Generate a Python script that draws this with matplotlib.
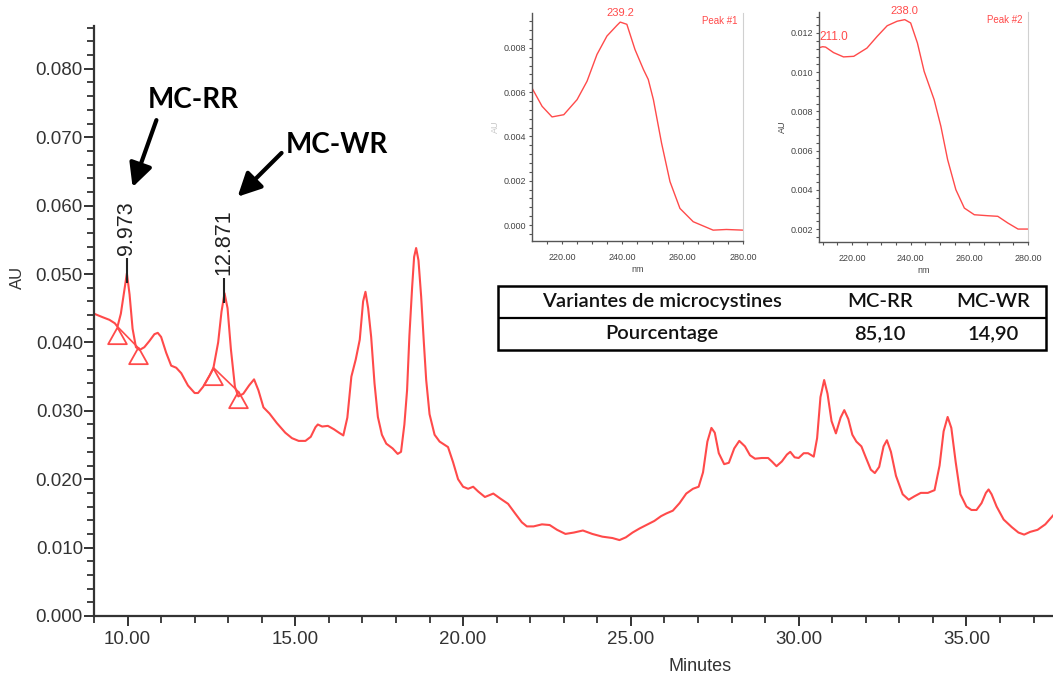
import numpy as np
import matplotlib
matplotlib.use("Agg")
import matplotlib.pyplot as plt
from matplotlib.ticker import MultipleLocator, FormatStrFormatter
from matplotlib.patches import Rectangle

plt.rcParams['font.family'] = ['Liberation Sans', 'DejaVu Sans']

# chromatogram (minutes, AU)
t = [9.00, 9.25, 9.46, 9.62, 9.70, 9.80, 9.90, 9.98, 10.06, 10.15, 10.25, 10.36,
     10.50, 10.65, 10.80, 10.90, 11.00, 11.15, 11.30, 11.45, 11.60, 11.80, 12.00,
     12.10, 12.25, 12.45, 12.56, 12.70, 12.80, 12.89, 12.98, 13.08, 13.20, 13.30,
     13.45, 13.62, 13.77, 13.90, 14.05, 14.23, 14.45, 14.70, 14.90, 15.10, 15.30,
     15.46, 15.60, 15.67, 15.80, 15.97, 16.15, 16.30, 16.43, 16.55, 16.67, 16.80,
     16.92, 17.02, 17.09, 17.17, 17.26, 17.36, 17.46, 17.58, 17.71, 17.90, 18.05,
     18.15, 18.25, 18.33, 18.40, 18.48, 18.54, 18.60, 18.67, 18.75, 18.83, 18.90,
     19.00, 19.15, 19.30, 19.55, 19.70, 19.85, 20.00, 20.15, 20.30, 20.45, 20.65,
     20.90, 21.10, 21.34, 21.55, 21.75, 21.90, 22.10, 22.35, 22.58, 22.80, 23.05,
     23.30, 23.57, 23.85, 24.15, 24.45, 24.66, 24.85, 25.05, 25.26, 25.50, 25.70,
     25.90, 26.06, 26.25, 26.45, 26.65, 26.85, 27.02, 27.15, 27.28, 27.40, 27.50,
     27.62, 27.78, 27.92, 28.08, 28.23, 28.40, 28.55, 28.70, 28.90, 29.09, 29.20,
     29.34, 29.50, 29.65, 29.75, 29.88, 30.00, 30.15, 30.28, 30.45, 30.55, 30.65,
     30.76, 30.86, 30.98, 31.11, 31.25, 31.36, 31.48, 31.60, 31.72, 31.87, 32.00,
     32.15, 32.27, 32.40, 32.53, 32.63, 32.75, 32.90, 33.10, 33.28, 33.45, 33.64,
     33.85, 34.05, 34.20, 34.32, 34.44, 34.55, 34.68, 34.82, 35.00, 35.15, 35.30,
     35.45, 35.58, 35.66, 35.75, 35.90, 36.11, 36.35, 36.55, 36.72, 36.90, 37.12,
     37.35, 37.60]
au = [0.0442, 0.0437, 0.0433, 0.0428, 0.0423, 0.0442, 0.0475, 0.0501, 0.0470, 0.0420,
      0.0393, 0.0389, 0.0393, 0.0402, 0.0412, 0.0414, 0.0408, 0.0385, 0.0366, 0.0363,
      0.0355, 0.0337, 0.0326, 0.0326, 0.0335, 0.0352, 0.0363, 0.0400, 0.0445, 0.0472,
      0.0450, 0.0390, 0.0335, 0.0321, 0.0325, 0.0337, 0.0346, 0.0330, 0.0305, 0.0296,
      0.0282, 0.0268, 0.0260, 0.0256, 0.0256, 0.0262, 0.0276, 0.0280, 0.0277, 0.0278,
      0.0273, 0.0268, 0.0264, 0.0290, 0.0350, 0.0375, 0.0404, 0.0460, 0.0474, 0.0450,
      0.0408, 0.0340, 0.0291, 0.0265, 0.0252, 0.0245, 0.0237, 0.0240, 0.0280, 0.0330,
      0.0410, 0.0480, 0.0525, 0.0538, 0.0520, 0.0467, 0.0400, 0.0345, 0.0295, 0.0265,
      0.0255, 0.0247, 0.0225, 0.0200, 0.0189, 0.0186, 0.0189, 0.0182, 0.0174, 0.0179,
      0.0172, 0.0164, 0.0150, 0.0137, 0.0131, 0.0131, 0.0134, 0.0133, 0.0126, 0.0120,
      0.0122, 0.0125, 0.0120, 0.0116, 0.0114, 0.0111, 0.0115, 0.0122, 0.0128, 0.0134,
      0.0139, 0.0146, 0.0150, 0.0154, 0.0165, 0.0179, 0.0186, 0.0189, 0.0210, 0.0255,
      0.0275, 0.0268, 0.0238, 0.0222, 0.0224, 0.0245, 0.0256, 0.0248, 0.0235, 0.0230,
      0.0231, 0.0231, 0.0226, 0.0219, 0.0226, 0.0236, 0.0240, 0.0232, 0.0231, 0.0238,
      0.0238, 0.0233, 0.0260, 0.0320, 0.0345, 0.0325, 0.0285, 0.0267, 0.0290, 0.0301,
      0.0288, 0.0265, 0.0255, 0.0248, 0.0232, 0.0214, 0.0209, 0.0218, 0.0248, 0.0257,
      0.0240, 0.0205, 0.0178, 0.0170, 0.0175, 0.0180, 0.0180, 0.0184, 0.0220, 0.0270,
      0.0291, 0.0275, 0.0225, 0.0178, 0.0160, 0.0155, 0.0155, 0.0165, 0.0180, 0.0185,
      0.0178, 0.0160, 0.0141, 0.0130, 0.0122, 0.0119, 0.0123, 0.0126, 0.0134, 0.0148]

peak_rt = [9.973, 12.871]
peak_au = [0.0501, 0.0472]
peak_names = ['MC-RR', 'MC-WR']
base_t = [[9.70, 10.30], [12.56, 13.28]]
base_au = [[0.0423, 0.0393], [0.0363, 0.0329]]
# where the callout text and arrows sit (minutes, AU)
name_xy = [(11.97, 0.0754), (16.23, 0.0689)]
arrow_from = [(10.86, 0.0725), (14.59, 0.0677)]
arrow_to = [(10.15, 0.0627), (13.28, 0.0613)]

# UV spectra of the two peaks (nm, AU)
nm1 = [210.0, 210.6, 213.4, 216.7, 220.6, 225.0, 228.3, 231.6, 234.9, 238.2, 239.3,
       241.5, 244.2, 247.0, 248.6, 250.3, 253.0, 255.8, 259.1, 263.5, 270.1, 274.5, 280.0]
sp1 = [0.0062, 0.00605, 0.00536, 0.00488, 0.00498, 0.00566, 0.00649, 0.0077, 0.00853,
       0.00901, 0.00916, 0.00906, 0.00792, 0.00702, 0.00657, 0.00566, 0.0037, 0.00196,
       0.00075, 0.00015, -0.00023, -0.0002, -0.00023]
nm2 = [208.8, 210.0, 211.0, 213.7, 217.1, 220.6, 225.1, 228.6, 232.0, 235.4, 238.0,
       240.0, 242.3, 244.6, 248.0, 250.3, 252.6, 255.4, 258.3, 261.7, 266.3, 269.7,
       273.1, 276.6, 280.0]
sp2 = [0.01125, 0.0113, 0.01128, 0.01100, 0.01078, 0.01081, 0.01123, 0.01183, 0.01237,
       0.0126, 0.01268, 0.01251, 0.01149, 0.01004, 0.0086, 0.00724, 0.00554, 0.00401,
       0.00307, 0.00273, 0.00268, 0.00265, 0.00231, 0.002, 0.002]
spec_peaks = [[239.2], [211.0, 238.0]]
spec_names = ['Peak #1', 'Peak #2']

table_head = ['Variantes de microcystines', 'MC-RR', 'MC-WR']
table_row = ['Pourcentage', '85,10', '14,90']

W, H = 1053, 679
red = '#ff4a4a'
fig = plt.figure(figsize=(W / 100, H / 100), dpi=100)

ax = fig.add_axes([94 / W, 1 - 616 / H, (W - 94) / W, 590 / H])
ax.plot(t, au, color=red, lw=1.5)
ax.set_xlim(9.0, 37.58)
ax.set_ylim(0, 0.08626)
for s in ['top', 'right']:
    ax.spines[s].set_visible(False)
for s in ['left', 'bottom']:
    ax.spines[s].set_color('#333333')
    ax.spines[s].set_linewidth(1.6)
ax.xaxis.set_major_locator(MultipleLocator(5))
ax.xaxis.set_minor_locator(MultipleLocator(1))
ax.xaxis.set_major_formatter(FormatStrFormatter('%.2f'))
ax.yaxis.set_major_locator(MultipleLocator(0.01))
ax.yaxis.set_minor_locator(MultipleLocator(0.002))
ax.yaxis.set_major_formatter(FormatStrFormatter('%.3f'))
ax.tick_params(which='major', length=7, width=1.4, color='#333333',
               labelsize=13.5, labelcolor='#333333')
ax.tick_params(axis='y', which='major', pad=1)
ax.tick_params(axis='x', which='major', pad=4)
ax.tick_params(which='minor', length=5, width=1.3, color='#333333')
ax.set_xlabel('Minutes', fontsize=13, color='#333333')
ax.xaxis.set_label_coords(0.632, -0.072)
fig.text(17 / W, 1 - 277 / H, 'AU', rotation=90, ha='center', va='center',
         fontsize=12, color='#333333')

# integration baselines with their start / end triangles
tri = [(0, 0), (-0.56, -1), (0.56, -1), (0, 0)]
for bt, ba in zip(base_t, base_au):
    ax.plot(bt, ba, color=red, lw=1.2)
    ax.plot(bt, ba, ls='none', marker=tri, ms=24, mfc='none', mec=red, mew=1.3)

for rt, pa in zip(peak_rt, peak_au):
    ax.vlines(rt, pa - 0.0014, pa + 0.0022, color='#222222', lw=1.5)
    ax.text(rt, pa + 0.0027, f'{rt:.3f}', rotation=90, ha='center', va='bottom',
            fontsize=15.5, color='#222222')

for name, nxy, a0, a1 in zip(peak_names, name_xy, arrow_from, arrow_to):
    ax.text(nxy[0], nxy[1], name, ha='center', va='center', fontsize=20,
            fontweight='bold', family=['Lato', 'DejaVu Sans'], color='black')
    ax.annotate('', xy=a1, xytext=a0,
                arrowprops=dict(arrowstyle='-|>,head_length=0.7,head_width=0.35',
                                lw=3, color='black', mutation_scale=20,
                                shrinkA=0, shrinkB=0))


def spectrum(rect, nm, sp, xlim, ylim, marks, tag, ylab_alpha):
    a = fig.add_axes(rect)
    a.plot(nm, sp, color=red, lw=1.0)
    a.set_xlim(*xlim)
    a.set_ylim(*ylim)
    a.spines['top'].set_visible(False)
    a.spines['right'].set_color('#d0d0d0')
    for s in ['left', 'bottom']:
        a.spines[s].set_color('#555555')
        a.spines[s].set_linewidth(1.0)
    a.xaxis.set_major_locator(MultipleLocator(20))
    a.xaxis.set_minor_locator(MultipleLocator(5))
    a.xaxis.set_major_formatter(FormatStrFormatter('%.2f'))
    a.yaxis.set_major_locator(MultipleLocator(0.002))
    a.yaxis.set_minor_locator(MultipleLocator(0.0004))
    a.yaxis.set_major_formatter(FormatStrFormatter('%.3f'))
    a.tick_params(which='both', length=2.5, width=0.8, color='#555555',
                  labelsize=6.5, labelcolor='#444444')
    a.tick_params(axis='y', pad=1.5)
    a.tick_params(axis='x', pad=6)
    a.set_xlabel('nm', fontsize=6.5, color='#444444', labelpad=2)
    a.set_ylabel('AU', fontsize=6.5, color='#444444', alpha=ylab_alpha, labelpad=3)
    for m in marks:
        # a mark too close to the left edge is written to the right of it
        near_edge = m - xlim[0] < 5
        a.text(xlim[0] + 0.3 if near_edge else m, np.interp(m, nm, sp) + 0.0002,
               f'{m:.1f}', ha='left' if near_edge else 'center', va='bottom',
               fontsize=8.5 if near_edge else 8, color=red)
    a.text(0.975, 0.965, tag, transform=a.transAxes, ha='right', va='center',
           fontsize=7, color=red)
    return a


spectrum([532 / W, 1 - 241 / H, 211 / W, 228 / H], nm1, sp1, (210.06, 280),
         (-0.00072, 0.00957), spec_peaks[0], spec_names[0], 0.3)
spectrum([819 / W, 1 - 242 / H, 209 / W, 230 / H], nm2, sp2, (208.75, 280),
         (0.00134, 0.01307), spec_peaks[1], spec_names[1], 1.0)

# percentage table
tax = fig.add_axes([498 / W, 1 - 350 / H, 548 / W, 64 / H])
tax.set_xlim(0, 1)
tax.set_ylim(0, 1)
tax.axis('off')
tax.add_patch(Rectangle((0, 0), 1, 1, fill=False, lw=1.8, ec='black', clip_on=False))
tax.plot([0, 1], [0.5, 0.5], color='black', lw=1.6)
col_x = [0.299, 0.697, 0.903]
for x, h, v in zip(col_x, table_head, table_row):
    tax.text(x, 0.75, h, ha='center', va='center', fontsize=14.5,
             family=['Lato', 'DejaVu Sans'], fontweight='semibold', color='#111111')
    tax.text(x, 0.25, v, ha='center', va='center', fontsize=14.5,
             family=['Lato', 'DejaVu Sans'], fontweight='semibold', color='#111111')

fig.savefig('out.png', dpi=100)
